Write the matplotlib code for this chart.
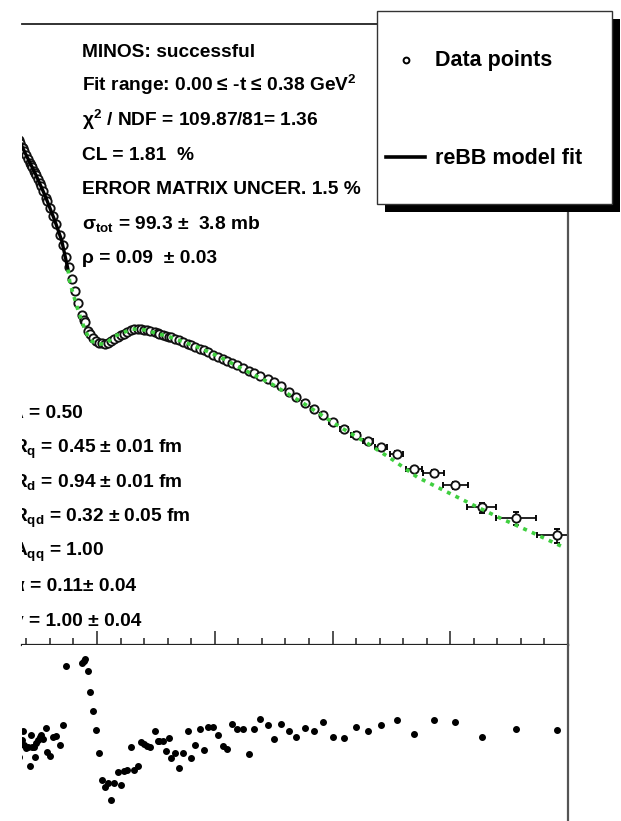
"""
reBB model fit to pp elastic dsigma/dt, with fit-quality residuals underneath.

Upper pad: measured dsigma/dt (open circles) vs -t, black line = fit inside the
fit range, green dotted = extrapolation of the fit. Lower pad: residuals.
"""

import numpy as np
import matplotlib.pyplot as plt
from matplotlib.lines import Line2D
from matplotlib.patches import Rectangle
from matplotlib.ticker import MultipleLocator, NullFormatter

W, H = 621, 821          # output size in pixels (dpi 100)

# ---------------------------------------------------------------------------
# data
# ---------------------------------------------------------------------------
t_data = [0.168, 0.173, 0.181, 0.185, 0.190, 0.198, 0.207, 0.215, 0.220, 0.224,
          0.232, 0.237, 0.241, 0.249, 0.258, 0.263, 0.271, 0.283, 0.288, 0.300,
          0.313, 0.325, 0.342, 0.356, 0.368,
          0.381, 0.394, 0.407, 0.419,
          0.435, 0.444, 0.447, 0.461, 0.469, 0.481, 0.495, 0.508, 0.520, 0.532,
          0.545, 0.559, 0.571, 0.588, 0.601, 0.613, 0.626, 0.643, 0.655, 0.672,
          0.686, 0.698, 0.711, 0.723, 0.745, 0.757, 0.765, 0.779, 0.791, 0.804,
          0.816, 0.830, 0.850, 0.867, 0.887, 0.901, 0.918, 0.938, 0.955, 0.972,
          0.994, 1.014, 1.033, 1.053, 1.075, 1.095, 1.121, 1.146, 1.168, 1.193,
          1.225, 1.251, 1.281, 1.315, 1.346, 1.383, 1.420, 1.459, 1.501, 1.547,
          1.598, 1.650, 1.706, 1.772, 1.846, 1.929, 2.022, 2.134, 2.280, 2.454]

dsdt_data = [16.1, 14.7, 12.6, 11.9, 10.9, 9.51, 8.19, 7.15, 6.56, 6.15,
             5.38, 4.94, 4.63, 4.05, 3.48, 3.13, 2.64, 2.06, 1.85, 1.44,
             1.07, 0.818, 0.540, 0.378, 0.250,
             0.173, 0.116, 0.0735, 0.0483,
             0.0318, 0.0265, 0.0247, 0.0178, 0.0160, 0.0138, 0.0124, 0.0119, 0.0116, 0.0114,
             0.0118, 0.0126, 0.0133, 0.0147, 0.0157, 0.0164, 0.0173, 0.0183, 0.0193, 0.0193,
             0.0191, 0.0188, 0.0184, 0.0180, 0.0171, 0.0166, 0.0163, 0.0157, 0.0152, 0.0147,
             0.0143, 0.0137, 0.0129, 0.0123, 0.0115, 0.0110, 0.0103, 0.00957, 0.00897, 0.00838,
             0.00769, 0.00710, 0.00662, 0.00619, 0.00573, 0.00536, 0.00480, 0.00433, 0.00397, 0.00363,
             0.00322, 0.00290, 0.00255, 0.00203, 0.00171, 0.00136, 0.00113, 0.000891, 0.000705, 0.000543,
             0.000450, 0.000352, 0.000287, 0.000229, 0.000130, 0.000115, 7.48e-5, 3.36e-5, 2.31e-5, 1.26e-5]

residuals = [-1.37, -0.67, -0.50, -0.03, -0.75, -0.92, -0.83, -1.78, -0.25, -0.83,
             -0.83, -1.37, -0.67, -0.50, -0.33, -0.25, -0.47, 0.08, -1.08, -1.30,
             -0.33, -0.30, -0.77, 0.23, 3.20,
             4.6, 5.0, 4.9, 4.5,
             3.37, 3.47, 3.55, 2.95, 1.88, 0.97, 0.00, -1.13, -2.50, -2.83,
             -2.63, -3.50, -2.67, -2.08, -2.75, -2.03, -2.00, -0.83, -2.00, -1.80,
             -0.58, -0.70, -0.80, -0.87, -0.03, -0.53, -0.53, -0.53, -1.03, -0.38,
             -1.38, -1.17, -1.92, -1.13, -0.03, -1.42, -0.75, 0.03, -1.00, 0.17,
             0.17, -0.25, -0.80, -0.97, 0.28, 0.03, 0.03, -1.20, 0.07, 0.53,
             0.23, -0.45, 0.30, -0.05, -0.33, 0.10, -0.05, 0.38, -0.35, -0.42,
             0.17, -0.03, 0.27, 0.50, -0.20, 0.48, 0.40, -0.37, 0.03, -0.02]

# bin half-widths / relative errors of the last (wide) bins
t_err_tail = [0.010, 0.011, 0.012, 0.013, 0.015, 0.017, 0.019, 0.021,
              0.024, 0.028, 0.034, 0.045, 0.053, 0.062, 0.085, 0.085]
rel_err_tail = [0.08, 0.08, 0.08, 0.08, 0.08, 0.08, 0.08, 0.08,
                0.09, 0.09, 0.10, 0.10, 0.12, 0.18, 0.22, 0.25]

# fit inside the fit range (black) and its extrapolation (green dotted)
t_fit = [0.168, 0.200, 0.240, 0.280, 0.320, 0.350, 0.377]
dsdt_fit = [16.1, 9.3, 4.7, 2.2, 0.93, 0.45, 0.16]

t_extrap = [0.377, 0.385, 0.419, 0.449, 0.470, 0.500, 0.534, 0.576, 0.649, 0.704,
            0.810, 0.937, 1.022, 1.150, 1.235, 1.375, 1.532, 1.646, 1.757, 1.859,
            1.986, 2.097, 2.211, 2.351, 2.479]
dsdt_extrap = [0.16, 0.0991, 0.0379, 0.0186, 0.0130, 0.0113, 0.0113, 0.0150, 0.0193, 0.0186,
               0.0145, 0.00982, 0.00711, 0.00403, 0.00282, 0.00138, 0.000589, 0.000333, 0.000182, 9.93e-5,
               5.83e-5, 3.67e-5, 2.31e-5, 1.36e-5, 8.22e-6]

fit_info = ["MINOS: successful",
            "Fit range: 0.00 \u2264 -t \u2264 0.38 GeV$^{2}$",
            "\u03c7$^{2}$ / NDF = 109.87/81= 1.36",
            "CL = 1.81  %",
            "ERROR MATRIX UNCER. 1.5 %",
            "\u03c3$_{\\mathrm{tot}}$ = 99.3 \u00b1  3.8 mb",
            "\u03c1 = 0.09  \u00b1 0.03"]

fit_params = ["\u03bb = 0.50",
              "R$_{\\mathrm{q}}$ = 0.45 \u00b1 0.01 fm",
              "R$_{\\mathrm{d}}$ = 0.94 \u00b1 0.01 fm",
              "R$_{\\mathrm{qd}}$ = 0.32 \u00b1 0.05 fm",
              "A$_{\\mathrm{qq}}$ = 1.00",
              "\u03b1 = 0.11\u00b1 0.04",
              "\u03b3 = 1.00 \u00b1 0.04"]

legend_labels = ["Data points", "reBB model fit"]

GREEN = "#3fcf3f"

plt.rcParams["font.family"] = ["Liberation Sans", "DejaVu Sans"]
plt.rcParams["font.weight"] = "bold"
plt.rcParams["mathtext.fontset"] = "custom"
plt.rcParams["mathtext.rm"] = "Liberation Sans:bold"
plt.rcParams["mathtext.it"] = "Liberation Sans:italic:bold"
plt.rcParams["mathtext.bf"] = "Liberation Sans:bold"


def fx(px):
    return px / W


def fy(py):
    return 1 - py / H


fig = plt.figure(figsize=(W / 100, H / 100), dpi=100)

# pads: left edge at 22 px, right edge at 568 px, split at 645 px
ax = fig.add_axes([fx(22), fy(645), fx(568) - fx(22), fy(24) - fy(645)])
ax_res = fig.add_axes([fx(22), 0, fx(568) - fx(22), fy(645)])

t = np.array(t_data)
y = np.array(dsdt_data)
n_tail = len(t_err_tail)
t_err = np.concatenate([np.zeros(len(t) - n_tail), t_err_tail])
y_err = y * np.concatenate([np.zeros(len(t) - n_tail), rel_err_tail])

ax.errorbar(t, y, xerr=t_err, yerr=y_err, fmt="o", ms=6.0, mfc="white", mec="#111111",
            mew=1.35, ecolor="black", elinewidth=1.2, capsize=2.5, capthick=1.2, zorder=2)
ax.plot(t_fit, dsdt_fit, color="black", lw=2.4, zorder=3)
ax.plot(t_extrap, dsdt_extrap, color=GREEN, lw=2.6, linestyle=(0, (1.1, 1.5)), zorder=4)

ax.set_yscale("log")
ax.set_xlim(0.1815, 2.5)
ax.set_ylim(10 ** -6.6, 10 ** 3.0)

ax.spines["left"].set_visible(False)
ax.spines["top"].set_color("#222222")
ax.spines["top"].set_linewidth(1.3)
ax.spines["right"].set_color("#555555")
ax.spines["right"].set_linewidth(1.6)
ax.spines["bottom"].set_color("#222222")
ax.spines["bottom"].set_linewidth(1.6)

ax.xaxis.set_major_locator(MultipleLocator(0.5))
ax.xaxis.set_minor_locator(MultipleLocator(0.1))
ax.xaxis.set_major_formatter(NullFormatter())
ax.tick_params(axis="x", which="major", direction="in", length=10, width=1.2,
               colors="#333333", top=False, labelbottom=False)
ax.tick_params(axis="x", which="minor", direction="in", length=5, width=1.2,
               colors="#333333", top=False)
ax.tick_params(axis="y", which="both", left=False, right=False, labelleft=False)

# residual pad
ax_res.plot(t, residuals, "o", color="black", ms=4.0, zorder=2)
ax_res.set_xlim(0.1815, 2.5)
ax_res.set_ylim(-4.55, 4.25)
for side in ("left", "top", "bottom"):
    ax_res.spines[side].set_visible(False)
ax_res.spines["right"].set_color("#555555")
ax_res.spines["right"].set_linewidth(1.6)
ax_res.set_xticks([])
ax_res.set_yticks([])

# fit statistics text
for i, line in enumerate(fit_info):
    fig.text(fx(82), fy(57 + i * 34.3), line, fontsize=13.8, fontweight="bold",
             va="baseline", ha="left", color="black")

# fit parameters (cut by the pad's left edge)
for i, line in enumerate(fit_params):
    ax.text(fx(13), fy(418 + i * 34.6), line, fontsize=13.8, fontweight="bold",
            va="baseline", ha="left", color="black", transform=fig.transFigure,
            clip_on=True)

# legend box with solid shadow
fig.add_artist(Rectangle((fx(385), fy(212)), fx(612) - fx(377), fy(11) - fy(204),
                         transform=fig.transFigure, facecolor="black", edgecolor="none",
                         zorder=5))
fig.add_artist(Rectangle((fx(377), fy(204)), fx(612) - fx(377), fy(11) - fy(204),
                         transform=fig.transFigure, facecolor="white", edgecolor="#333333",
                         lw=1.0, zorder=6))
fig.add_artist(Line2D([fx(406)], [fy(60)], marker="o", ms=4.2, mfc="white", mec="black",
                      mew=1.4, transform=fig.transFigure, zorder=7))
fig.add_artist(Line2D([fx(386), fx(425)], [fy(157), fy(157)], color="black", lw=2.6,
                      transform=fig.transFigure, zorder=7))
fig.text(fx(435), fy(66), legend_labels[0], fontsize=15.5, fontweight="bold",
         va="baseline", ha="left", zorder=8)
fig.text(fx(435), fy(164), legend_labels[1], fontsize=15.5, fontweight="bold",
         va="baseline", ha="left", zorder=8)

fig.savefig("out.png", dpi=100, facecolor="white")
